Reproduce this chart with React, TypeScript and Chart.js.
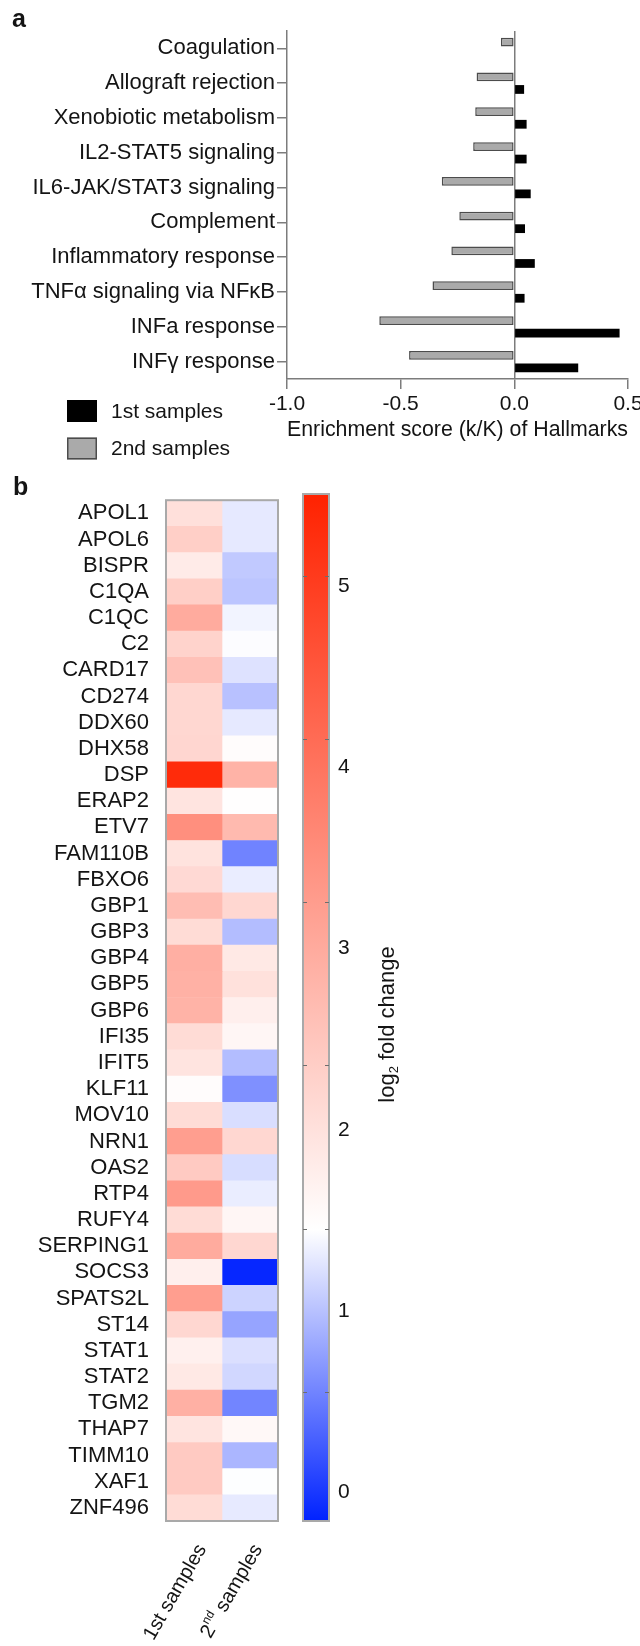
import React, { useEffect, useRef } from 'react';
import { Chart, registerables } from 'chart.js';

Chart.register(...registerables);

const FONT = '"Liberation Sans", Arial, Helvetica, sans-serif';
const INK = '#141414';
const AXIS = '#7c7c7c';

// ---------- Panel a data ----------
const hallmarks = [
  'Coagulation',
  'Allograft rejection',
  'Xenobiotic metabolism',
  'IL2-STAT5 signaling',
  'IL6-JAK/STAT3 signaling',
  'Complement',
  'Inflammatory response',
  'TNFα signaling via NFκB',
  'INFa response',
  'INFγ response',
];
const firstScores = [0, 0.043, 0.054, 0.054, 0.072, 0.047, 0.09, 0.045, 0.463, 0.281];
const secondScores = [-0.059, -0.166, -0.172, -0.181, -0.319, -0.242, -0.277, -0.36, -0.594, -0.463];
const scoreTicks = [-1, -0.5, 0, 0.5];
const sampleNames = ['1st samples', '2nd samples'];
const sampleFills = ['#000000', '#aaaaaa'];
const sampleEdges = ['#000000', '#4c4c4c'];

// ---------- Panel b data ----------
const genes = [
  'APOL1', 'APOL6', 'BISPR', 'C1QA', 'C1QC', 'C2', 'CARD17', 'CD274', 'DDX60', 'DHX58',
  'DSP', 'ERAP2', 'ETV7', 'FAM110B', 'FBXO6', 'GBP1', 'GBP3', 'GBP4', 'GBP5', 'GBP6',
  'IFI35', 'IFIT5', 'KLF11', 'MOV10', 'NRN1', 'OAS2', 'RTP4', 'RUFY4', 'SERPING1', 'SOCS3',
  'SPATS2L', 'ST14', 'STAT1', 'STAT2', 'TGM2', 'THAP7', 'TIMM10', 'XAF1', 'ZNF496',
];
const firstLog2FC = [
  2.02, 2.34, 1.82, 2.34, 2.99, 2.26, 2.58, 2.18, 2.18, 2.2,
  5.35, 1.94, 3.5, 1.97, 2.14, 2.66, 2.1, 2.92, 2.88, 2.85,
  2.1, 1.95, 1.5, 2.1, 3.23, 2.42, 3.3, 2.1, 3.0, 1.74,
  3.23, 2.18, 1.72, 1.86, 2.9, 1.94, 2.42, 2.42, 2.1,
];
const secondLog2FC = [
  1.29, 1.29, 1.06, 1.03, 1.37, 1.43, 1.24, 1.0, 1.29, 1.5,
  2.85, 1.47, 2.72, 0.55, 1.32, 2.18, 0.97, 1.86, 2.0, 1.74,
  1.61, 0.97, 0.64, 1.21, 2.18, 1.2, 1.32, 1.61, 2.18, -0.12,
  1.13, 0.79, 1.22, 1.16, 0.56, 1.57, 0.92, 1.44, 1.3,
];
const colorbarTicks = [0, 1, 2, 3, 4, 5];
const colorbarMarks = [0.55, 1.45, 2.36, 3.26, 4.16, 5.06];
const colorRange = [-0.16, 1.45, 5.51]; // min (blue), white point, max (red)
const colorbarTitle = ['log', '2', ' fold change'];
const xLabelSuperscript = [false, true];

const BLUE = [0, 34, 255];
const RED = [255, 34, 0];
const WHITE = [255, 255, 255];

function mix(a: number[], b: number[], t: number) {
  const c = a.map((v, i) => Math.round(v + (b[i] - v) * t));
  return `rgb(${c[0]},${c[1]},${c[2]})`;
}
function clamp01(t: number) {
  return Math.max(0, Math.min(1, t));
}
function heatColor(v: number) {
  const [lo, mid, hi] = colorRange;
  if (v >= mid) return mix(WHITE, RED, clamp01((v - mid) / (hi - mid)));
  return mix(WHITE, BLUE, clamp01((mid - v) / (mid - lo)));
}

// ---------- Layout constants ----------
const A_H = 470;
const A_TOP = 31;
const A_LEFT = 287;
const A_RIGHT_PAD = 12;
const A_BOTTOM = 379;

const B_TOP = 470;
const B_H = 1176;
const HM_W = 300;
const HM_LEFT = 166;
const HM_RIGHT_PAD = 22;
const HM_TOP_PAD = 24;
const HM_BOTTOM_PAD = 125;
const CB_X = 290;
const CB_W = 350;
const CB_LEFT_PAD = 13;
const CB_BAR_W = 26;

const panelAExtras = {
  id: 'panelAExtras',
  afterDraw(chart: any) {
    const ctx = chart.ctx;
    ctx.save();
    ctx.fillStyle = INK;
    ctx.textAlign = 'left';
    ctx.textBaseline = 'alphabetic';
    ctx.font = `bold 25px ${FONT}`;
    ctx.fillText('a', 12, 27);

    // legend: 1st samples, 2nd samples
    sampleNames.forEach((name, i) => {
      const y = 400 + i * 37.5;
      ctx.fillStyle = sampleFills[i];
      ctx.fillRect(67, y, 30, 22);
      ctx.strokeStyle = sampleEdges[i];
      ctx.lineWidth = 1.5;
      ctx.strokeRect(67.75, y + 0.75, 28.5, 20.5);
      ctx.fillStyle = INK;
      ctx.font = `21px ${FONT}`;
      ctx.textBaseline = 'middle';
      ctx.fillText(name, 111, y + 12);
    });
    ctx.restore();
  },
};

const heatExtras = {
  id: 'heatExtras',
  afterDatasetsDraw(chart: any) {
    const { ctx, chartArea } = chart;
    ctx.save();
    ctx.strokeStyle = '#a9a9a9';
    ctx.lineWidth = 2;
    ctx.strokeRect(chartArea.left, chartArea.top, chartArea.right - chartArea.left, chartArea.bottom - chartArea.top);
    ctx.restore();
  },
  afterDraw(chart: any) {
    const { ctx, chartArea } = chart;
    ctx.save();
    ctx.fillStyle = INK;
    ctx.textAlign = 'left';
    ctx.textBaseline = 'alphabetic';
    ctx.font = `bold 25px ${FONT}`;
    ctx.fillText('b', 13, 25);

    sampleNames.forEach((name, i) => {
      const meta = chart.getDatasetMeta(i);
      const el = meta.data[meta.data.length - 1];
      const cx = (el.x + el.base) / 2;
      const ax = cx + 8;
      const ay = chartArea.bottom + 25;
      ctx.save();
      ctx.translate(ax, ay);
      ctx.rotate(-Math.PI / 3);
      ctx.textBaseline = 'middle';
      ctx.textAlign = 'left';
      let parts: { t: string; size: number; dy: number }[];
      const m = name.match(/^(\d+)(st|nd|rd|th)(.*)$/);
      if (xLabelSuperscript[i] && m) {
        parts = [
          { t: m[1], size: 20, dy: 0 },
          { t: m[2], size: 12, dy: -7 },
          { t: m[3], size: 20, dy: 0 },
        ];
      } else {
        parts = [{ t: name, size: 20, dy: 0 }];
      }
      let total = 0;
      parts.forEach((p) => {
        ctx.font = `${p.size}px ${FONT}`;
        total += ctx.measureText(p.t).width;
      });
      let x = -total;
      parts.forEach((p) => {
        ctx.font = `${p.size}px ${FONT}`;
        ctx.fillText(p.t, x, p.dy);
        x += ctx.measureText(p.t).width;
      });
      ctx.restore();
    });
    ctx.restore();
  },
};

const colorbarExtras = {
  id: 'colorbarExtras',
  afterDraw(chart: any) {
    const { ctx, chartArea, scales } = chart;
    const y = scales.y;
    ctx.save();
    ctx.strokeStyle = '#a9a9a9';
    ctx.lineWidth = 2;
    ctx.strokeRect(chartArea.left, chartArea.top, chartArea.right - chartArea.left, chartArea.bottom - chartArea.top);
    ctx.strokeStyle = '#6e6e6e';
    ctx.lineWidth = 1;
    colorbarMarks.forEach((v) => {
      const py = Math.round(y.getPixelForValue(v)) + 0.5;
      ctx.beginPath();
      ctx.moveTo(chartArea.left, py);
      ctx.lineTo(chartArea.left + 4, py);
      ctx.moveTo(chartArea.right - 4, py);
      ctx.lineTo(chartArea.right, py);
      ctx.stroke();
    });

    // rotated title: log2 fold change (reading bottom to top)
    const tx = chartArea.right + 59;
    const ty = (chartArea.top + chartArea.bottom) / 2 + 17;
    ctx.translate(tx, ty);
    ctx.rotate(-Math.PI / 2);
    ctx.fillStyle = INK;
    ctx.textBaseline = 'middle';
    ctx.textAlign = 'left';
    const parts = [
      { t: colorbarTitle[0], size: 22, dy: 0 },
      { t: colorbarTitle[1], size: 13, dy: 6 },
      { t: colorbarTitle[2], size: 22, dy: 0 },
    ];
    let total = 0;
    parts.forEach((p) => {
      ctx.font = `${p.size}px ${FONT}`;
      total += ctx.measureText(p.t).width;
    });
    let x = -total / 2;
    parts.forEach((p) => {
      ctx.font = `${p.size}px ${FONT}`;
      ctx.fillText(p.t, x, p.dy);
      x += ctx.measureText(p.t).width;
    });
    ctx.restore();
  },
};

export default function App() {
  const aRef = useRef<HTMLCanvasElement>(null);
  const bRef = useRef<HTMLCanvasElement>(null);
  const cRef = useRef<HTMLCanvasElement>(null);

  useEffect(() => {
    document.body.style.margin = '0';
    Chart.defaults.font.family = FONT;
    Chart.defaults.color = INK;

    const chartA = new Chart(aRef.current as HTMLCanvasElement, {
      type: 'bar',
      data: {
        labels: hallmarks,
        datasets: [
          {
            label: sampleNames[1],
            data: secondScores,
            backgroundColor: sampleFills[1],
            borderColor: sampleEdges[1],
            borderWidth: 1.5,
            borderSkipped: false,
          },
          {
            label: sampleNames[0],
            data: firstScores,
            backgroundColor: sampleFills[0],
            borderColor: sampleEdges[0],
            borderWidth: 0,
          },
        ],
      },
      options: {
        indexAxis: 'y',
        animation: false,
        responsive: false,
        maintainAspectRatio: false,
        devicePixelRatio: 1,
        layout: { padding: { top: A_TOP, right: A_RIGHT_PAD, left: 0, bottom: 0 } },
        datasets: { bar: { categoryPercentage: 0.72, barPercentage: 0.7 } },
        plugins: { legend: { display: false }, tooltip: { enabled: false } },
        scales: {
          x: {
            type: 'linear',
            min: -1,
            max: 0.5,
            afterBuildTicks: (s: any) => {
              s.ticks = scoreTicks.map((v) => ({ value: v }));
            },
            afterFit: (s: any) => {
              s.height = A_H - A_BOTTOM;
              s.paddingLeft = 0;
              s.paddingRight = 0;
            },
            ticks: {
              callback: (v: any) => Number(v).toFixed(1),
              font: { family: FONT, size: 21 },
              color: INK,
              padding: 3,
              maxRotation: 0,
              autoSkip: false,
            },
            grid: {
              drawOnChartArea: true,
              color: (c: any) => (c.tick && c.tick.value === 0 ? AXIS : 'rgba(0,0,0,0)'),
              lineWidth: 1.5,
              tickColor: AXIS,
              tickLength: 10,
              tickWidth: 1.5,
            },
            border: { display: true, color: AXIS, width: 1.5 },
            title: {
              display: true,
              text: 'Enrichment score (k/K) of Hallmarks',
              font: { family: FONT, size: 22 },
              color: INK,
              padding: { top: 0, bottom: 27 },
            },
          },
          y: {
            type: 'category',
            afterFit: (s: any) => {
              s.width = A_LEFT;
            },
            ticks: { font: { family: FONT, size: 22 }, color: INK, padding: 2, autoSkip: false },
            grid: {
              offset: false,
              drawOnChartArea: false,
              color: AXIS,
              tickColor: AXIS,
              tickLength: 10,
              lineWidth: 1.5,
              tickWidth: 1.5,
            },
            border: { display: true, color: AXIS, width: 1.5 },
          },
        },
      } as any,
      plugins: [panelAExtras],
    });

    const chartB = new Chart(bRef.current as HTMLCanvasElement, {
      type: 'bar',
      data: {
        labels: genes,
        datasets: [
          {
            label: sampleNames[0],
            data: firstLog2FC.map(() => 1),
            backgroundColor: firstLog2FC.map(heatColor),
            borderWidth: 0,
          },
          {
            label: sampleNames[1],
            data: secondLog2FC.map(() => 1),
            backgroundColor: secondLog2FC.map(heatColor),
            borderWidth: 0,
          },
        ],
      },
      options: {
        indexAxis: 'y',
        animation: false,
        responsive: false,
        maintainAspectRatio: false,
        devicePixelRatio: 1,
        layout: { padding: { top: HM_TOP_PAD, right: HM_RIGHT_PAD, left: 0, bottom: HM_BOTTOM_PAD } },
        datasets: { bar: { categoryPercentage: 1, barPercentage: 1 } },
        plugins: { legend: { display: false }, tooltip: { enabled: false } },
        scales: {
          x: { type: 'linear', stacked: true, min: 0, max: 2, display: false },
          y: {
            type: 'category',
            stacked: true,
            afterFit: (s: any) => {
              s.width = HM_LEFT;
            },
            ticks: { font: { family: FONT, size: 22 }, color: INK, padding: 17, autoSkip: false },
            grid: { display: false, drawTicks: false },
            border: { display: false },
          },
        },
      } as any,
      plugins: [heatExtras],
    });

    const gradientFill = (c: any) => {
      const chart = c.chart;
      const y = chart.scales.y;
      if (!chart.chartArea || !y) return 'white';
      const [lo, mid, hi] = colorRange;
      const g = chart.ctx.createLinearGradient(0, y.getPixelForValue(lo), 0, y.getPixelForValue(hi));
      g.addColorStop(0, mix(BLUE, BLUE, 0));
      g.addColorStop((mid - lo) / (hi - lo), mix(WHITE, WHITE, 0));
      g.addColorStop(1, mix(RED, RED, 0));
      return g;
    };

    const chartC = new Chart(cRef.current as HTMLCanvasElement, {
      type: 'bar',
      data: {
        labels: ['log2 fold change'],
        datasets: [
          {
            label: 'colour scale',
            data: [[colorRange[0], colorRange[2]]],
            backgroundColor: gradientFill,
            borderWidth: 0,
          },
        ],
      },
      options: {
        animation: false,
        responsive: false,
        maintainAspectRatio: false,
        devicePixelRatio: 1,
        layout: { padding: { top: HM_TOP_PAD, right: 0, left: CB_LEFT_PAD, bottom: HM_BOTTOM_PAD } },
        datasets: { bar: { categoryPercentage: 1, barPercentage: 1 } },
        plugins: { legend: { display: false }, tooltip: { enabled: false } },
        scales: {
          x: { type: 'category', display: false },
          y: {
            type: 'linear',
            position: 'right',
            min: colorRange[0],
            max: colorRange[2],
            afterBuildTicks: (s: any) => {
              s.ticks = colorbarTicks.map((v) => ({ value: v }));
            },
            afterFit: (s: any) => {
              s.width = CB_W - CB_LEFT_PAD - CB_BAR_W;
              s.paddingTop = 0;
              s.paddingBottom = 0;
            },
            ticks: { font: { family: FONT, size: 21 }, color: INK, padding: 9 },
            grid: { display: false, drawTicks: false },
            border: { display: false },
          },
        },
      } as any,
      plugins: [colorbarExtras],
    });

    return () => {
      chartA.destroy();
      chartB.destroy();
      chartC.destroy();
    };
  }, []);

  return (
    <div style={{ position: 'absolute', left: 0, top: 0, width: 640, height: 1646, background: '#ffffff', overflow: 'hidden' }}>
      <canvas ref={aRef} width={640} height={A_H} style={{ position: 'absolute', left: 0, top: 0, width: 640, height: A_H }} />
      <canvas ref={bRef} width={HM_W} height={B_H} style={{ position: 'absolute', left: 0, top: B_TOP, width: HM_W, height: B_H }} />
      <canvas ref={cRef} width={CB_W} height={B_H} style={{ position: 'absolute', left: CB_X, top: B_TOP, width: CB_W, height: B_H }} />
    </div>
  );
}
